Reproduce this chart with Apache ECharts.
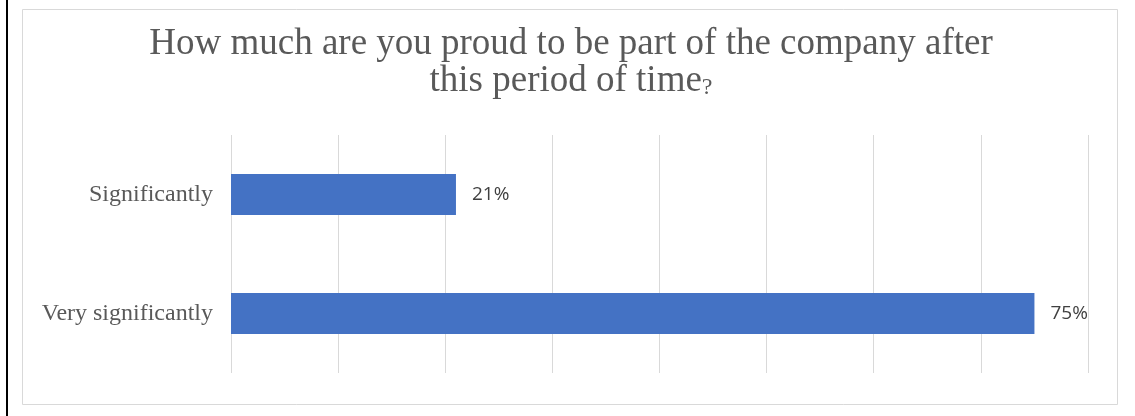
<!DOCTYPE html>
<html>
<head>
<meta charset="utf-8">
<style>
  html, body { margin: 0; padding: 0; background: #fff; }
  #chart { width: 1135px; height: 416px; }
</style>
<script src="https://cdn.jsdelivr.net/npm/echarts@6/dist/echarts.min.js"></script>
</head>
<body>
<div id="chart"></div>
<script>
// Survey answers and their shares
const categories = ['Significantly', 'Very significantly'];
const shares = [0.21, 0.75];

// Value axis range (ticks drawn as grid lines only)
const axisMin = 0;
const axisMax = 0.8;
const axisStep = 0.1;

const chart = echarts.init(document.getElementById('chart'), null, { renderer: 'canvas' });

const option = {
  backgroundColor: '#ffffff',
  animation: false,
  title: {
    text: '{t|How much are you proud to be part of the company after}\n{t|this period of time}{q|?}',
    left: 566,
    top: 21,
    textAlign: 'center',
    textStyle: {
      fontWeight: 'normal',
      rich: {
        t: { fontFamily: 'Liberation Serif', fontWeight: 'normal', fontSize: 37, color: '#595959', lineHeight: 37 },
        q: { fontFamily: 'Liberation Serif', fontWeight: 'normal', fontSize: 24, color: '#595959', lineHeight: 37, verticalAlign: 'bottom' }
      }
    }
  },
  graphic: [
    {
      type: 'rect',
      shape: { x: 6, y: 0, width: 2, height: 416 },
      style: { fill: '#000000' },
      silent: true
    },
    {
      type: 'rect',
      shape: { x: 22.5, y: 9.5, width: 1095, height: 395 },
      style: { fill: 'none', stroke: '#d9d9d9', lineWidth: 1 },
      silent: true
    }
  ],
  grid: {
    left: 231,
    right: 1135 - 1088,
    top: 135,
    bottom: 416 - 373,
    containLabel: false
  },
  xAxis: {
    type: 'value',
    min: axisMin,
    max: axisMax,
    interval: axisStep,
    axisLabel: { show: false },
    axisLine: { show: false },
    axisTick: { show: false },
    splitLine: { show: true, lineStyle: { color: '#d9d9d9', width: 1 } }
  },
  yAxis: {
    type: 'category',
    inverse: true,
    data: categories,
    axisLine: { show: false },
    axisTick: { show: false },
    axisLabel: {
      margin: 18,
      fontFamily: 'Liberation Serif',
      fontSize: 24,
      color: '#595959'
    }
  },
  series: [
    {
      type: 'bar',
      data: shares,
      barWidth: 41,
      itemStyle: { color: '#4472c4' },
      label: {
        show: true,
        position: 'right',
        distance: 16,
        fontFamily: 'Open Sans',
        fontSize: 19,
        color: '#404040',
        formatter: (p) => Math.round(p.value * 100) + '%'
      }
    }
  ]
};

chart.setOption(option);
</script>
</body>
</html>
